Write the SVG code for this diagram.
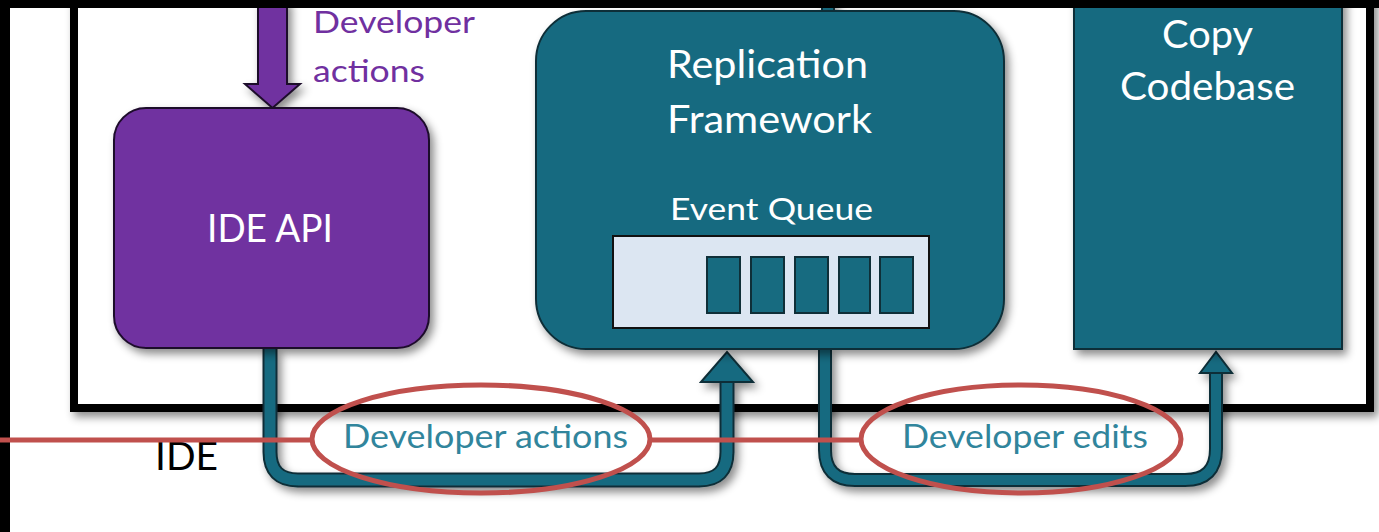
<svg xmlns="http://www.w3.org/2000/svg" width="1379" height="532" viewBox="0 0 1379 532">
  <style>
    .lbl { font-family: Lato, "Open Sans", "Liberation Sans", sans-serif; }
    .node-text { fill: #ffffff; text-anchor: middle; }
    .teal { fill: #176B80; stroke: #0F2F38; stroke-width: 2; }
    .purple { fill: #7030A0; stroke: #1E0B2C; stroke-width: 2; }
    .flow-text { fill: #31859C; font-size: 32px; text-anchor: middle; }
    .mark { fill: none; stroke: #C0504D; stroke-width: 5; }
  </style>
  <defs>
    <filter id="shadow" x="-20%" y="-20%" width="140%" height="140%">
      <feDropShadow dx="4" dy="5" stdDeviation="4" flood-color="#000" flood-opacity="0.45"/>
    </filter>
  </defs>

  <rect x="0" y="0" width="1379" height="532" fill="#ffffff"/>

  <!-- IDE boundary -->
  <g id="ide-boundary">
    <rect x="74" y="-20" width="1296" height="428" fill="#ffffff" stroke="#000" stroke-width="8" filter="url(#shadow)"/>
    <text class="lbl" x="186.5" y="470" font-size="38" text-anchor="middle" fill="#000" textLength="63" lengthAdjust="spacingAndGlyphs">IDE</text>
  </g>

  <!-- connectors -->
  <g id="connectors" filter="url(#shadow)">
    <!-- developer actions into the IDE API -->
    <polygon class="purple" points="258,0 287,0 287,84 300,84 272.5,108 245,84 258,84"/>
    <!-- framework stub leaving upward -->
    <path d="M828,14 V0" stroke="#0F2F38" stroke-width="14" fill="none"/>
    <path d="M828,14 V0" stroke="#176B80" stroke-width="10" fill="none"/>
    <!-- IDE API -> Event Queue -->
    <path d="M270,348 V452 Q270,480 298,480 H699 Q727,480 727,452 V380" stroke="#0F2F38" stroke-width="15" fill="none"/>
    <path d="M270,348 V452 Q270,480 298,480 H699 Q727,480 727,452 V378" stroke="#176B80" stroke-width="11" fill="none"/>
    <polygon class="teal" points="701,382 727,352 753,382"/>
    <!-- Replication Framework -> Copy Codebase -->
    <path d="M825,348 V450 Q825,480 855,480 H1185 Q1216,480 1216,449 V372" stroke="#0F2F38" stroke-width="14" fill="none"/>
    <path d="M825,348 V450 Q825,480 855,480 H1185 Q1216,480 1216,449 V370" stroke="#176B80" stroke-width="10" fill="none"/>
    <polygon class="teal" points="1200,373 1216,352 1232,373"/>
  </g>

  <g id="ide-api">
    <rect class="purple" x="114" y="108" width="315" height="240" rx="32" filter="url(#shadow)"/>
    <text class="lbl node-text" x="270" y="242" font-size="38" textLength="126" lengthAdjust="spacingAndGlyphs">IDE API</text>
  </g>

  <g id="replication-framework">
    <rect class="teal" x="536" y="11" width="468" height="338" rx="50" filter="url(#shadow)"/>
    <text class="lbl node-text" x="767.5" y="78" font-size="39" textLength="201" lengthAdjust="spacingAndGlyphs">Replication</text>
    <text class="lbl node-text" x="769.5" y="133" font-size="39" textLength="205" lengthAdjust="spacingAndGlyphs">Framework</text>
    <text class="lbl node-text" x="771.5" y="220" font-size="31" textLength="203" lengthAdjust="spacingAndGlyphs">Event Queue</text>
    <g id="event-queue">
      <rect x="613" y="236" width="316" height="92" fill="#DCE6F2" stroke="#111" stroke-width="2"/>
      <rect class="teal" x="707" y="257" width="33" height="56"/>
      <rect class="teal" x="751" y="257" width="33" height="56"/>
      <rect class="teal" x="795" y="257" width="33" height="56"/>
      <rect class="teal" x="839" y="257" width="31" height="56"/>
      <rect class="teal" x="880" y="257" width="33" height="56"/>
    </g>
  </g>

  <g id="copy-codebase">
    <rect class="teal" x="1074" y="-10" width="268" height="359" filter="url(#shadow)"/>
    <text class="lbl node-text" x="1207.5" y="48" font-size="39" textLength="91" lengthAdjust="spacingAndGlyphs">Copy</text>
    <text class="lbl node-text" x="1207.5" y="100" font-size="39" textLength="175" lengthAdjust="spacingAndGlyphs">Codebase</text>
  </g>

  <!-- labels -->
  <text class="lbl" x="313" y="33" font-size="31" fill="#7030A0" textLength="162" lengthAdjust="spacingAndGlyphs">Developer</text>
  <text class="lbl" x="313" y="82" font-size="31" fill="#7030A0" textLength="112" lengthAdjust="spacingAndGlyphs">actions</text>
  <text class="lbl flow-text" x="485.5" y="448" textLength="285" lengthAdjust="spacingAndGlyphs">Developer actions</text>
  <text class="lbl flow-text" x="1025" y="448" textLength="246" lengthAdjust="spacingAndGlyphs">Developer edits</text>

  <!-- frame edges -->
  <rect x="0" y="0" width="1379" height="8" fill="#000"/>
  <rect x="0" y="0" width="10" height="532" fill="#000"/>

  <!-- highlight marks -->
  <g id="highlights">
    <line class="mark" x1="0" y1="440" x2="312" y2="440"/>
    <line class="mark" x1="651" y1="440" x2="862" y2="440"/>
    <ellipse class="mark" cx="481" cy="439" rx="169" ry="54"/>
    <ellipse class="mark" cx="1021" cy="439" rx="160" ry="54"/>
  </g>
</svg>
